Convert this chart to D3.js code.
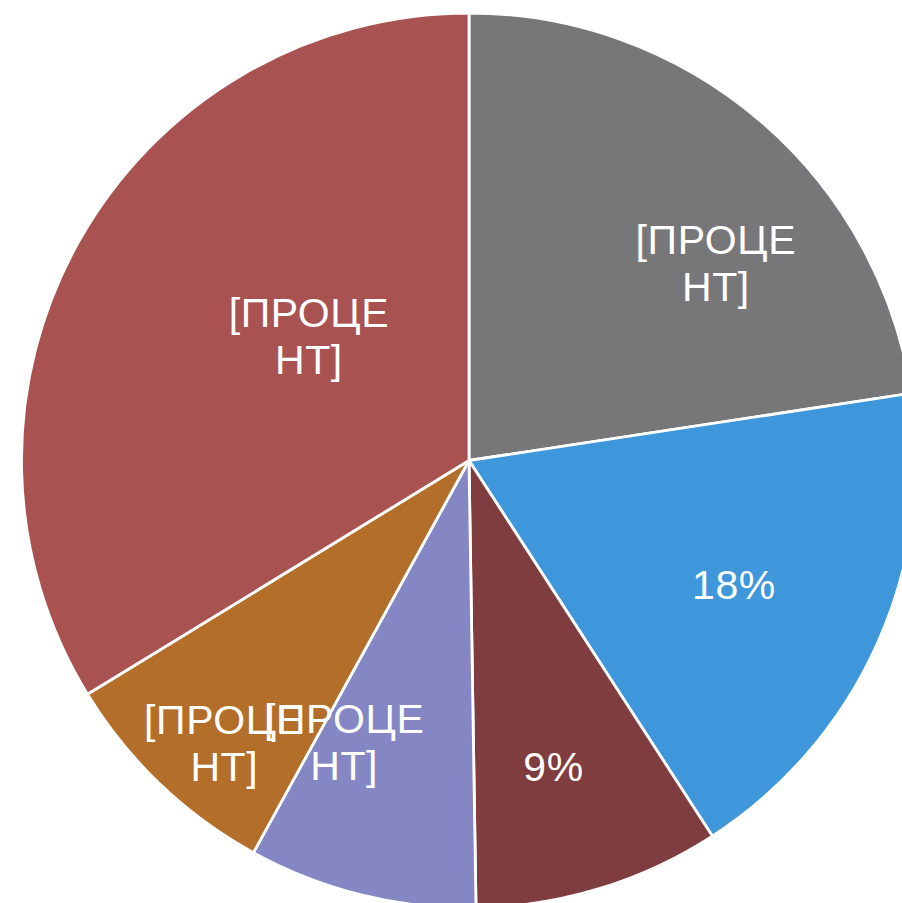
<!DOCTYPE html>
<html lang="ru">
<head>
    <meta charset="UTF-8">
    <title>Pie</title>
    <script src="https://cdn.jsdelivr.net/npm/d3@7"></script>
    <style>
        body {
            margin: 0;
            background-color: #fff;
        }
        svg {
            display: block;
        }
        .label {
            font-family: 'Liberation Sans', Arial, sans-serif;
            font-size: 41px;
            letter-spacing: 0.6px;
            fill: #fff;
        }
    </style>
</head>
<body>
    <svg width="902" height="903"></svg>

    <script>
        // data, clockwise from 12 o'clock
        const categories = ["s1", "s2", "s3", "s4", "s5", "s6"];
        const values = [22.6, 18.25, 8.9, 8.25, 8.25, 33.75];
        const labels = [
            ["[ПРОЦЕ", "НТ]"],
            ["18%"],
            ["9%"],
            ["[ПРОЦЕ", "НТ]"],
            ["[ПРОЦЕ", "НТ]"],
            ["[ПРОЦЕ", "НТ]"]
        ];

        const colors = ["#77777a", "#3e96db", "#7f3d3f", "#8587c4", "#b36e29", "#a85252"];
        // label placement: fraction of radius, shift from slice middle (degrees)
        const labelR = [0.706, 0.654, 0.711, 0.69, 0.836, 0.453];
        const labelShift = [10.7, 0.9, 1.5, 9.9, -2.8, 8.6];

        const svg = d3.select("svg");
        const cx = 469, cy = 460.5, R = 447.5;
        const lineH = 47;

        const pie = d3.pie().sort(null).value(d => d);
        const arcs = pie(values);
        const arc = d3.arc().innerRadius(0).outerRadius(R);

        const g = svg.append("g").attr("transform", `translate(${cx},${cy})`);

        g.selectAll("path")
            .data(arcs)
            .enter()
            .append("path")
            .attr("d", arc)
            .attr("fill", (d, i) => colors[i])
            .attr("stroke", "#fff")
            .attr("stroke-width", 2.8)
            .attr("stroke-linejoin", "round");

        const lab = g.selectAll("text")
            .data(arcs)
            .enter()
            .append("text")
            .attr("class", "label")
            .attr("text-anchor", "middle")
            .attr("transform", (d, i) => {
                const a = (d.startAngle + d.endAngle) / 2 + labelShift[i] * Math.PI / 180;
                const r = labelR[i] * R;
                return `translate(${r * Math.sin(a)},${-r * Math.cos(a)})`;
            });

        lab.each(function (d, i) {
            const lines = labels[i];
            const t = d3.select(this);
            lines.forEach((s, j) => {
                t.append("tspan")
                    .attr("x", 0)
                    .attr("y", (j - (lines.length - 1) / 2) * lineH + 14)
                    .text(s);
            });
        });
    </script>
</body>
</html>
